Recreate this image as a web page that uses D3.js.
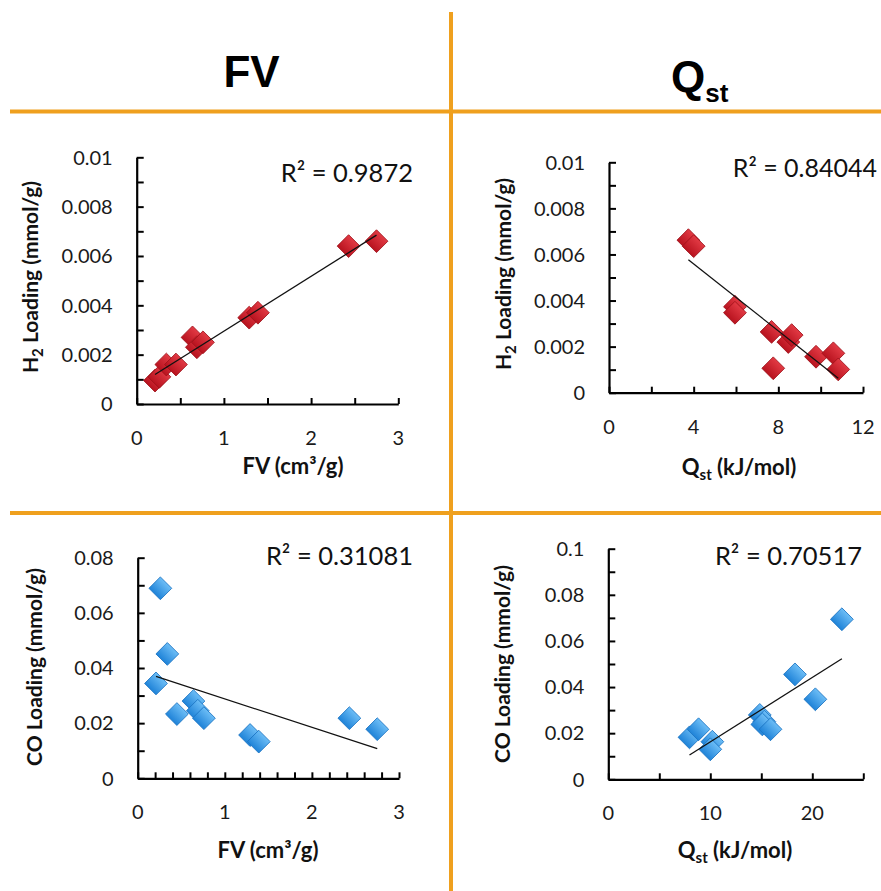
<!DOCTYPE html>
<html>
<head>
<meta charset="utf-8">
<script src="https://cdn.jsdelivr.net/npm/d3@7"></script>
<style>
  html, body { margin: 0; padding: 0; background: #fff; }
  svg { display: block; }
</style>
</head>
<body>
<svg id="chart" width="881" height="891"></svg>
<script>
// ---------------- DATA ----------------
const fv        = [0.21, 0.26, 0.34, 0.45, 0.64, 0.69, 0.76, 1.29, 1.39, 2.43, 2.75];
const h2ByFv    = [0.00095, 0.0011, 0.0016, 0.0016, 0.0027, 0.0023, 0.0025, 0.0035, 0.0037, 0.0064, 0.0066];
const coByFv    = [0.0344, 0.0689, 0.0451, 0.0233, 0.0280, 0.0245, 0.0218, 0.0157, 0.0133, 0.0218, 0.0178];

const qstH2     = [3.75, 4.0, 5.95, 5.95, 7.68, 7.76, 8.47, 8.63, 9.78, 10.6, 10.83];
const h2ByQst   = [0.00662, 0.00636, 0.00373, 0.00347, 0.00264, 0.00106, 0.0022, 0.0025, 0.00156, 0.00171, 0.00101];

const qstCO     = [22.9, 18.3, 20.3, 14.85, 15.3, 15.1, 15.9, 7.96, 8.85, 10.2, 10.0];
const coByQst   = [0.0694, 0.0455, 0.0347, 0.0279, 0.0250, 0.0238, 0.0217, 0.0182, 0.0217, 0.0163, 0.0130];

const r2Labels  = ["R² = 0.9872", "R² = 0.84044", "R² = 0.31081", "R² = 0.70517"];

const h2YTickLabels = ["0", "0.002", "0.004", "0.006", "0.008", "0.01"];
const h2YTickValues = [0, 0.002, 0.004, 0.006, 0.008, 0.01];
const coFvYTickLabels = ["0", "0.02", "0.04", "0.06", "0.08"];
const coFvYTickValues = [0, 0.02, 0.04, 0.06, 0.08];
const coQYTickLabels = ["0", "0.02", "0.04", "0.06", "0.08", "0.1"];
const coQYTickValues = [0, 0.02, 0.04, 0.06, 0.08, 0.1];
const fvXTickValues = [0, 1, 2, 3];
const qH2XTickValues = [0, 4, 8, 12];
const qCOXTickValues = [0, 10, 20];

const columnHeaders = ["FV", "Q"];

// ---------------- SETUP ----------------
const svg = d3.select("#chart");
const ORANGE = "#EFA01E";
const TICKFONT = "Lato, 'Open Sans', sans-serif";

const defs = svg.append("defs");
function grad(id, c1, c2) {
  const g = defs.append("linearGradient").attr("id", id)
    .attr("x1", "0").attr("y1", "0").attr("x2", "0").attr("y2", "1");
  g.append("stop").attr("offset", "0%").attr("stop-color", c1);
  g.append("stop").attr("offset", "100%").attr("stop-color", c2);
}
grad("gRed", "#E23A44", "#B8131F");
grad("gBlue", "#6CBDF6", "#1F83D8");

// Grid separators (orange)
svg.append("line").attr("x1", 10).attr("x2", 881).attr("y1", 111.5).attr("y2", 111.5)
  .attr("stroke", ORANGE).attr("stroke-width", 4);
svg.append("line").attr("x1", 10).attr("x2", 881).attr("y1", 513).attr("y2", 513)
  .attr("stroke", ORANGE).attr("stroke-width", 4);
svg.append("line").attr("x1", 451).attr("x2", 451).attr("y1", 12).attr("y2", 891)
  .attr("stroke", ORANGE).attr("stroke-width", 4);

// Column headers
svg.append("text").attr("x", 251.5).attr("y", 87).attr("text-anchor", "middle")
  .style("font-family", "'Liberation Sans', Arial, sans-serif").style("font-weight", "bold")
  .style("font-size", "44px").text(columnHeaders[0]);
const qh = svg.append("text").attr("x", 671).attr("y", 92)
  .style("font-family", "'Liberation Sans', Arial, sans-serif").style("font-weight", "bold")
  .style("font-size", "44px");
qh.append("tspan").text(columnHeaders[1]);
qh.append("tspan").attr("dy", 10).style("font-size", "26px").text("st");

// ---------------- PANELS ----------------
const panels = [
  { x: fv, y: h2ByFv, xMax: 3, yMax: 0.01, left: 136.7, right: 398.3, top: 157.3, bottom: 404,
    xMinorStep: 0.5, yMinorStep: 0.001, xTicks: fvXTickValues, yTicks: h2YTickValues, yLabels: h2YTickLabels,
    color: "url(#gRed)", stroke: "#9E1019", xTitle: "fv", yTitle: "h2",
    xt: [293, 474], yt: [277, 38], r2: r2Labels[0], r2pos: [413, 182, "end", 25.5] },
  { x: qstH2, y: h2ByQst, xMax: 12, yMax: 0.01, left: 609, right: 863, top: 162.3, bottom: 392.7,
    xMinorStep: 2, yMinorStep: 0.001, xTicks: qH2XTickValues, yTicks: h2YTickValues, yLabels: h2YTickLabels,
    color: "url(#gRed)", stroke: "#9E1019", xTitle: "q", yTitle: "h2",
    xt: [739, 475], yt: [274, 511], r2: r2Labels[1], r2pos: [877, 177, "end", 25] },
  { x: fv, y: coByFv, xMax: 3, yMax: 0.08, left: 137.7, right: 399, top: 557.7, bottom: 778.3,
    xMinorStep: 0.2, yMinorStep: 0.01, xTicks: fvXTickValues, yTicks: coFvYTickValues, yLabels: coFvYTickLabels,
    color: "url(#gBlue)", stroke: "#1A72C2", xTitle: "fv", yTitle: "co",
    xt: [268, 858], yt: [667, 42], r2: r2Labels[2], r2pos: [413, 565, "end", 25.5] },
  { x: qstCO, y: coByQst, xMax: 25, yMax: 0.1, left: 608.3, right: 863.3, top: 548.7, bottom: 779.3,
    xMinorStep: 5, yMinorStep: 0.01, xTicks: qCOXTickValues, yTicks: coQYTickValues, yLabels: coQYTickLabels,
    color: "url(#gBlue)", stroke: "#1A72C2", xTitle: "q", yTitle: "co",
    xt: [735, 858], yt: [664, 510], r2: r2Labels[3], r2pos: [862, 565, "end", 25.5] }
];

function addXTitle(g, kind, cx, by) {
  const t = g.append("text").attr("x", cx).attr("y", by).attr("text-anchor", "middle")
    .style("font-family", TICKFONT).style("font-weight", "bold").style("font-size", "22px").attr("fill", "#111");
  if (kind === "fv") {
    t.text("FV (cm³/g)");
  } else {
    t.append("tspan").text("Q");
    t.append("tspan").attr("dy", 5).style("font-size", "15px").text("st");
    t.append("tspan").attr("dy", -5).text(" (kJ/mol)");
  }
}
function addYTitle(g, kind, cy, bx) {
  const t = g.append("text").attr("transform", `translate(${bx},${cy}) rotate(-90)`)
    .attr("text-anchor", "middle")
    .style("font-family", TICKFONT).style("font-weight", "bold").style("font-size", "21px").attr("fill", "#111");
  if (kind === "h2") {
    t.append("tspan").text("H");
    t.append("tspan").attr("dy", 5).style("font-size", "15px").text("2");
    t.append("tspan").attr("dy", -5).text(" Loading (mmol/g)");
  } else {
    t.text("CO Loading (mmol/g)");
  }
}

function range(step, max) {
  const n = Math.round(max / step);
  return d3.range(0, n + 1).map(i => +(i * step).toFixed(6));
}

panels.forEach(p => {
  const g = svg.append("g");
  const xs = d3.scaleLinear().domain([0, p.xMax]).range([p.left, p.right]);
  const ys = d3.scaleLinear().domain([0, p.yMax]).range([p.bottom, p.top]);

  // Axes (ticks inside)
  const xAxis = d3.axisBottom(xs).tickValues(range(p.xMinorStep, p.xMax)).tickSizeInner(-6).tickSizeOuter(0).tickFormat("");
  const yAxis = d3.axisLeft(ys).tickValues(range(p.yMinorStep, p.yMax)).tickSizeInner(-7).tickSizeOuter(0).tickFormat("");
  const xg = g.append("g").attr("transform", `translate(0,${p.bottom})`).call(xAxis);
  const yg = g.append("g").attr("transform", `translate(${p.left},0)`).call(yAxis);
  [xg, yg].forEach(a => {
    a.select(".domain").attr("stroke", "#000").attr("stroke-width", 2.2);
    a.selectAll(".tick line").attr("stroke", "#000").attr("stroke-width", 2);
  });

  // Tick labels
  g.selectAll(".xl").data(p.xTicks).enter().append("text")
    .attr("x", d => xs(d)).attr("y", p.bottom + 41).attr("text-anchor", "middle")
    .style("font-family", TICKFONT).style("font-size", "20px").attr("fill", "#1a1a1a")
    .text(d => String(d));
  g.selectAll(".yl").data(p.yTicks).enter().append("text")
    .attr("x", p.left - 24).attr("y", d => ys(d)).attr("dy", "0.36em").attr("text-anchor", "end")
    .style("font-family", TICKFONT).style("font-size", "20px").attr("fill", "#1a1a1a")
    .text((d, i) => p.yLabels[i]);

  // Markers
  const pts = p.x.map((xv, i) => ({ x: xv, y: p.y[i] }));
  const sym = d3.symbol(d3.symbolSquare, 260);
  g.selectAll(".pt").data(pts).enter().append("path")
    .attr("d", sym)
    .attr("transform", d => `translate(${xs(d.x)},${ys(d.y)}) rotate(45)`)
    .attr("fill", p.color).attr("stroke", p.stroke).attr("stroke-width", 0.8);

  // Linear trendline (least squares over the data)
  const mx = d3.mean(p.x), my = d3.mean(p.y);
  let sxy = 0, sxx = 0;
  p.x.forEach((xv, i) => { sxy += (xv - mx) * (p.y[i] - my); sxx += (xv - mx) * (xv - mx); });
  const slope = sxy / sxx, icpt = my - slope * mx;
  const [x0, x1] = d3.extent(p.x);
  g.append("line")
    .attr("x1", xs(x0)).attr("y1", ys(icpt + slope * x0))
    .attr("x2", xs(x1)).attr("y2", ys(icpt + slope * x1))
    .attr("stroke", "#111").attr("stroke-width", 1.3);

  // R² label
  g.append("text").attr("x", p.r2pos[0]).attr("y", p.r2pos[1]).attr("text-anchor", p.r2pos[2])
    .style("font-family", TICKFONT).style("font-size", p.r2pos[3] + "px").attr("fill", "#111").text(p.r2);

  // Axis titles
  addXTitle(g, p.xTitle, p.xt[0], p.xt[1]);
  addYTitle(g, p.yTitle, p.yt[0], p.yt[1]);
});
</script>
</body>
</html>
